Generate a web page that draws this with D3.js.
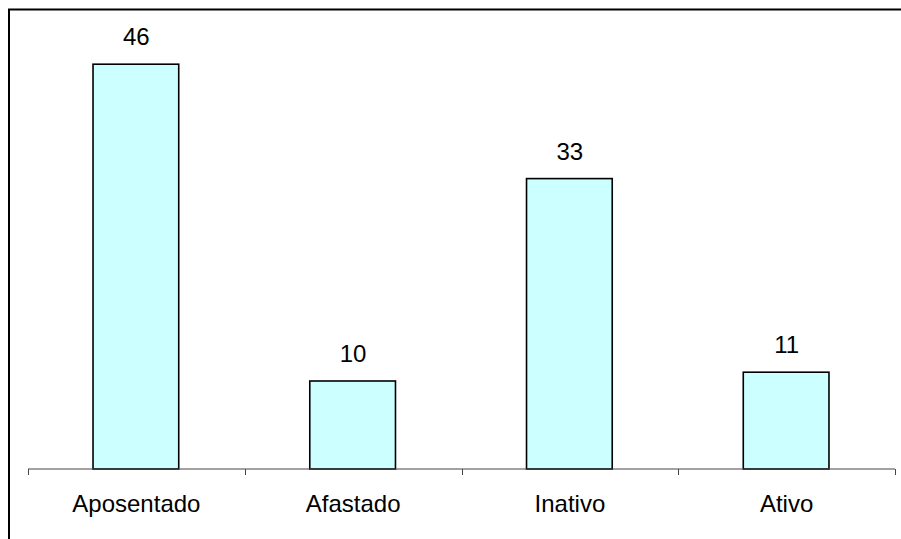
<!DOCTYPE html>
<html>
<head>
<meta charset="utf-8">
<script src="https://cdn.jsdelivr.net/npm/d3@7"></script>
<style>
  html, body { margin: 0; padding: 0; background: #fff; }
  svg { display: block; }
</style>
</head>
<body>
<svg id="chart" width="901" height="539"></svg>
<script>
// Situação funcional: contagem por categoria
const categories = ["Aposentado", "Afastado", "Inativo", "Ativo"];
const values = [46, 10, 33, 11];
const yDomainMax = 50;

const W = 901, H = 539;
const svg = d3.select("#chart");
const font = "'Liberation Sans', Arial, sans-serif";

// Outer frame (runs past the right and bottom edges)
svg.append("rect")
  .attr("x", 9).attr("y", 9.5)
  .attr("width", W).attr("height", H)
  .attr("fill", "none").attr("stroke", "#000").attr("stroke-width", 2);

const plot = { left: 28, right: 895, top: 29, bottom: 469 };

const x = d3.scaleBand()
  .domain(categories)
  .range([plot.left, plot.right])
  .paddingInner(0.6)
  .paddingOuter(0.3);

const xOuter = d3.scaleBand()
  .domain(categories)
  .range([plot.left, plot.right]);

const y = d3.scaleLinear()
  .domain([0, yDomainMax])
  .range([plot.bottom, plot.top]);

// Bars
svg.append("g").selectAll("rect")
  .data(values)
  .join("rect")
  .attr("x", (d, i) => x(categories[i]))
  .attr("y", d => y(d))
  .attr("width", x.bandwidth() - 1)
  .attr("height", d => y(0) - y(d))
  .attr("fill", "#CCFFFF")
  .attr("stroke", "#000")
  .attr("stroke-width", 1.6);

// Category axis with ticks between categories
const axisG = svg.append("g").attr("transform", `translate(0,${plot.bottom})`);
axisG.append("line")
  .attr("x1", plot.left).attr("x2", plot.right)
  .attr("y1", 0).attr("y2", 0)
  .attr("stroke", "#444").attr("stroke-width", 1);
const tickXs = categories.map(c => xOuter(c)).concat([plot.right]);
axisG.selectAll("line.tick")
  .data(tickXs)
  .join("line")
  .attr("class", "tick")
  .attr("x1", d => Math.round(d) + 0.5).attr("x2", d => Math.round(d) + 0.5)
  .attr("y1", 0).attr("y2", 6)
  .attr("stroke", "#444").attr("stroke-width", 1);
axisG.selectAll("text")
  .data(categories)
  .join("text")
  .attr("x", c => xOuter(c) + xOuter.bandwidth() / 2)
  .attr("y", 43)
  .attr("text-anchor", "middle")
  .attr("font-family", font)
  .attr("font-size", 24)
  .attr("fill", "#000")
  .text(c => c);

// Value labels above bars
svg.append("g").selectAll("text")
  .data(values)
  .join("text")
  .attr("x", (d, i) => x(categories[i]) + x.bandwidth() / 2)
  .attr("y", d => y(d) - 19)
  .attr("text-anchor", "middle")
  .attr("font-family", font)
  .attr("font-size", 24)
  .attr("fill", "#000")
  .text(d => d);
</script>
</body>
</html>
